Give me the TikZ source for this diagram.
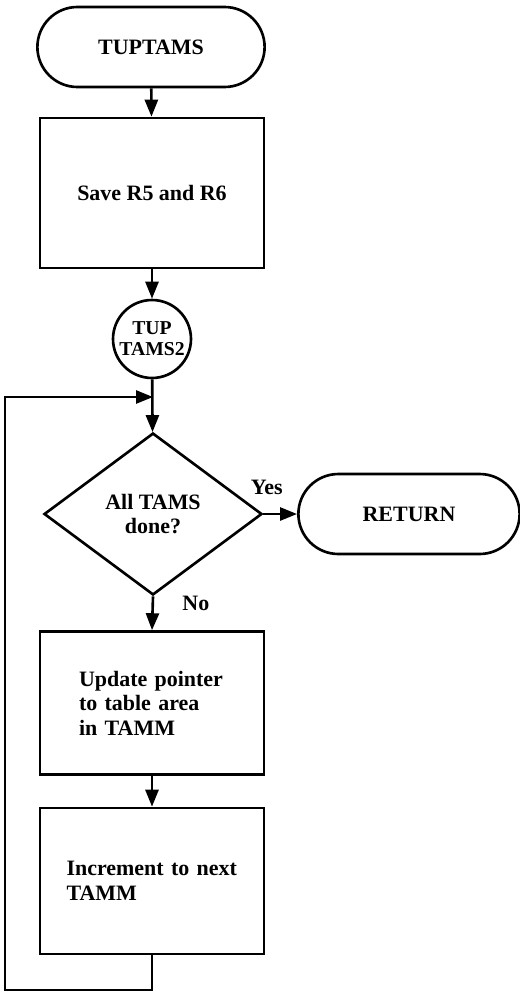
\documentclass[tikz,border=0pt]{standalone}
\usepackage{fontspec}
\setmainfont{Liberation Serif}
\usetikzlibrary{shapes.geometric,shapes.misc,arrows.meta}

\begin{document}
\begin{tikzpicture}[x=0.02cm, y=-0.02cm, line width=1.5pt,
      font=\bfseries\fontsize{12.5}{14}\selectfont,
      >={Triangle[length=0.34cm,width=0.26cm]},
      term/.style={draw, rounded rectangle, minimum width=4.78cm, minimum height=1.6cm},
      proc/.style={draw, rectangle, minimum width=4.48cm},
      conn/.style={draw, circle, inner sep=0pt, minimum size=1.56cm, align=center, font=\bfseries\fontsize{11.2}{12}\selectfont},
      dec/.style={draw, diamond, inner sep=0pt, minimum width=4.36cm, minimum height=3.24cm, align=center}]
      \useasboundingbox (0, 0) rectangle (520, 994);
      \node[term] (start) at (151, 47) {TUPTAMS};
      \node[proc, minimum height=3cm] (save) at (152, 193) {Save R5 and R6};
      \node[conn] (tup2) at (152, 339) {TUP\\TAMS2};
      \node[dec] (done) at (153, 514) {All TAMS\\done?};
      \node[term, minimum width=4.66cm] (ret) at (409, 514) {RETURN};
      \node[proc, minimum height=2.86cm, text width=2.92cm, align=left] (upd) at (152, 703) {Update pointer\\to table area\\in TAMM};
      \node[proc, minimum height=2.92cm, text width=3.42cm, align=left] (inc) at (152, 881) {Increment to next\\TAMM};
      \coordinate (loopin) at (153, 397);
      \coordinate (loopbl) at (5, 990);
      \draw[->] (start) -- (save);
      \draw[->] (save) -- (tup2);
      \draw[->] (tup2) -- (done);
      \draw[->] (done.east) -- node[pos=0.1, above=0.25cm] {Yes} (ret.west);
      \draw[->] (done.south) -- node[pos=0.2, right=0.45cm] {No} (upd.north);
      \draw[->] (upd) -- (inc);
      \draw[->] (inc.south) |- (loopbl) |- (loopin);
\end{tikzpicture}
\end{document}
